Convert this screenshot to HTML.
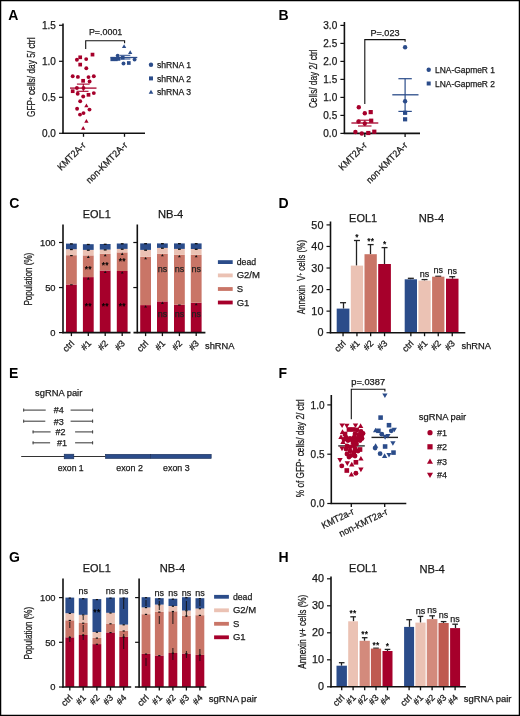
<!DOCTYPE html>
<html><head><meta charset="utf-8"><style>
html,body{margin:0;padding:0;background:#fff;}
svg{display:block;font-family:"Liberation Sans", sans-serif;will-change:transform;}
</style></head><body>
<svg width="520" height="716" viewBox="0 0 520 716">
<rect x="0" y="0" width="520" height="716" fill="#fff"/>
<text x="8.30" y="20.30" font-size="14" text-anchor="start" fill="#000" font-weight="bold" >A</text>
<line x1="63.00" y1="23.50" x2="63.00" y2="133.90" stroke="#111" stroke-width="1.6" />
<line x1="59.00" y1="133.30" x2="63.00" y2="133.30" stroke="#111" stroke-width="1.2" />
<text x="55.80" y="136.90" font-size="10" text-anchor="end" fill="#1a1a1a" stroke="#1a1a1a" stroke-width="0.25" textLength="13.90" lengthAdjust="spacingAndGlyphs" >0.0</text>
<line x1="59.00" y1="97.30" x2="63.00" y2="97.30" stroke="#111" stroke-width="1.2" />
<text x="55.80" y="100.90" font-size="10" text-anchor="end" fill="#1a1a1a" stroke="#1a1a1a" stroke-width="0.25" textLength="13.90" lengthAdjust="spacingAndGlyphs" >0.5</text>
<line x1="59.00" y1="61.30" x2="63.00" y2="61.30" stroke="#111" stroke-width="1.2" />
<text x="55.80" y="64.90" font-size="10" text-anchor="end" fill="#1a1a1a" stroke="#1a1a1a" stroke-width="0.25" textLength="13.90" lengthAdjust="spacingAndGlyphs" >1.0</text>
<line x1="59.00" y1="25.30" x2="63.00" y2="25.30" stroke="#111" stroke-width="1.2" />
<text x="55.80" y="28.90" font-size="10" text-anchor="end" fill="#1a1a1a" stroke="#1a1a1a" stroke-width="0.25" textLength="13.90" lengthAdjust="spacingAndGlyphs" >1.5</text>
<line x1="62.30" y1="133.30" x2="145.00" y2="133.30" stroke="#111" stroke-width="1.6" />
<line x1="83.50" y1="133.30" x2="83.50" y2="136.80" stroke="#111" stroke-width="1.3" />
<line x1="124.50" y1="133.30" x2="124.50" y2="136.80" stroke="#111" stroke-width="1.3" />
<text x="35.30" y="77.30" font-size="10.5" text-anchor="middle" fill="#1a1a1a" stroke="#1a1a1a" stroke-width="0.25" textLength="79.6" lengthAdjust="spacingAndGlyphs" transform="rotate(-90 35.30 77.30)" >GFP<tspan font-size="6" dy="-3.5">+</tspan><tspan dy="3.5"> cells/ day 5/ ctrl</tspan></text>
<path d="M85.7,48.9 V40.8 H124.6 V43.2" stroke="#111" stroke-width="1.1" fill="none" />
<text x="105.60" y="35.40" font-size="9" text-anchor="middle" fill="#1a1a1a" stroke="#1a1a1a" stroke-width="0.25" textLength="33.4" lengthAdjust="spacingAndGlyphs" >P=.0001</text>
<rect x="90.65" y="52.75" width="3.70" height="3.70" fill="#a6002b"/>
<rect x="78.35" y="55.45" width="3.70" height="3.70" fill="#a6002b"/>
<circle cx="76.90" cy="59.80" r="1.95" fill="#a6002b"/>
<circle cx="86.20" cy="59.10" r="1.95" fill="#a6002b"/>
<rect x="78.35" y="62.75" width="3.70" height="3.70" fill="#a6002b"/>
<circle cx="86.30" cy="68.30" r="1.95" fill="#a6002b"/>
<circle cx="72.70" cy="76.20" r="1.95" fill="#a6002b"/>
<circle cx="77.90" cy="76.90" r="1.95" fill="#a6002b"/>
<circle cx="88.50" cy="77.10" r="1.95" fill="#a6002b"/>
<circle cx="93.80" cy="76.30" r="1.95" fill="#a6002b"/>
<rect x="81.25" y="78.95" width="3.70" height="3.70" fill="#a6002b"/>
<circle cx="89.60" cy="81.50" r="1.95" fill="#a6002b"/>
<circle cx="76.90" cy="88.00" r="1.95" fill="#a6002b"/>
<circle cx="83.50" cy="88.00" r="1.95" fill="#a6002b"/>
<rect x="70.85" y="89.35" width="3.70" height="3.70" fill="#a6002b"/>
<circle cx="77.70" cy="93.80" r="1.95" fill="#a6002b"/>
<circle cx="83.20" cy="96.50" r="1.95" fill="#a6002b"/>
<rect x="86.65" y="92.95" width="3.70" height="3.70" fill="#a6002b"/>
<circle cx="93.80" cy="93.10" r="1.95" fill="#a6002b"/>
<circle cx="80.20" cy="101.30" r="1.95" fill="#a6002b"/>
<path d="M86.40,103.45 L88.55,107.16 L84.26,107.16Z" fill="#a6002b"/>
<circle cx="77.10" cy="108.80" r="1.95" fill="#a6002b"/>
<circle cx="89.50" cy="109.60" r="1.95" fill="#a6002b"/>
<circle cx="80.00" cy="114.60" r="1.95" fill="#a6002b"/>
<circle cx="83.50" cy="113.10" r="1.95" fill="#a6002b"/>
<path d="M86.40,119.06 L88.55,122.76 L84.26,122.76Z" fill="#a6002b"/>
<path d="M83.20,125.95 L85.34,129.66 L81.06,129.66Z" fill="#a6002b"/>
<line x1="70.00" y1="88.10" x2="96.50" y2="88.10" stroke="#a6002b" stroke-width="1.3" />
<line x1="76.90" y1="84.10" x2="89.60" y2="84.10" stroke="#a6002b" stroke-width="1.1" />
<line x1="76.50" y1="91.30" x2="88.50" y2="91.30" stroke="#a6002b" stroke-width="1.1" />
<line x1="83.30" y1="84.10" x2="83.30" y2="91.30" stroke="#a6002b" stroke-width="1.1" />
<path d="M124.10,44.25 L126.24,47.96 L121.95,47.96Z" fill="#2b4c8a"/>
<path d="M130.20,50.35 L132.34,54.06 L128.05,54.06Z" fill="#2b4c8a"/>
<circle cx="117.70" cy="55.60" r="1.95" fill="#2b4c8a"/>
<rect x="110.45" y="57.45" width="3.70" height="3.70" fill="#2b4c8a"/>
<rect x="113.95" y="57.45" width="3.70" height="3.70" fill="#2b4c8a"/>
<rect x="116.65" y="57.05" width="3.70" height="3.70" fill="#2b4c8a"/>
<rect x="120.85" y="55.85" width="3.70" height="3.70" fill="#2b4c8a"/>
<circle cx="123.50" cy="63.50" r="1.95" fill="#2b4c8a"/>
<rect x="126.95" y="61.15" width="3.70" height="3.70" fill="#2b4c8a"/>
<circle cx="134.60" cy="59.60" r="1.95" fill="#2b4c8a"/>
<line x1="110.40" y1="57.50" x2="137.30" y2="57.50" stroke="#2b4c8a" stroke-width="1.3" />
<line x1="120.00" y1="55.30" x2="130.40" y2="55.30" stroke="#2b4c8a" stroke-width="1.0" />
<line x1="120.00" y1="59.00" x2="130.40" y2="59.00" stroke="#2b4c8a" stroke-width="1.0" />
<circle cx="151.00" cy="64.80" r="2.20" fill="#2b4c8a"/>
<text x="157.00" y="68.00" font-size="8.5" text-anchor="start" fill="#1a1a1a" stroke="#1a1a1a" stroke-width="0.25" textLength="34" lengthAdjust="spacingAndGlyphs" >shRNA 1</text>
<rect x="149.00" y="76.41" width="3.99" height="3.99" fill="#2b4c8a"/>
<text x="157.00" y="81.50" font-size="8.5" text-anchor="start" fill="#1a1a1a" stroke="#1a1a1a" stroke-width="0.25" textLength="34" lengthAdjust="spacingAndGlyphs" >shRNA 2</text>
<path d="M151.00,89.69 L153.31,93.68 L148.69,93.68Z" fill="#2b4c8a"/>
<text x="157.00" y="95.00" font-size="8.5" text-anchor="start" fill="#1a1a1a" stroke="#1a1a1a" stroke-width="0.25" textLength="34" lengthAdjust="spacingAndGlyphs" >shRNA 3</text>
<text x="86.30" y="145.80" font-size="9.6" text-anchor="end" fill="#1a1a1a" stroke="#1a1a1a" stroke-width="0.25" textLength="35.5" lengthAdjust="spacingAndGlyphs" transform="rotate(-45 86.30 145.80)" >KMT2A-r</text>
<text x="128.00" y="145.80" font-size="9.6" text-anchor="end" fill="#1a1a1a" stroke="#1a1a1a" stroke-width="0.25" textLength="54" lengthAdjust="spacingAndGlyphs" transform="rotate(-45 128.00 145.80)" >non-KMT2A-r</text>
<text x="278.50" y="20.40" font-size="14" text-anchor="start" fill="#000" font-weight="bold" >B</text>
<line x1="344.40" y1="22.00" x2="344.40" y2="134.00" stroke="#111" stroke-width="1.6" />
<line x1="340.40" y1="133.40" x2="344.40" y2="133.40" stroke="#111" stroke-width="1.2" />
<text x="337.20" y="137.00" font-size="10" text-anchor="end" fill="#1a1a1a" stroke="#1a1a1a" stroke-width="0.25" textLength="13.90" lengthAdjust="spacingAndGlyphs" >0.0</text>
<line x1="340.40" y1="115.40" x2="344.40" y2="115.40" stroke="#111" stroke-width="1.2" />
<text x="337.20" y="119.00" font-size="10" text-anchor="end" fill="#1a1a1a" stroke="#1a1a1a" stroke-width="0.25" textLength="13.90" lengthAdjust="spacingAndGlyphs" >0.5</text>
<line x1="340.40" y1="97.40" x2="344.40" y2="97.40" stroke="#111" stroke-width="1.2" />
<text x="337.20" y="101.00" font-size="10" text-anchor="end" fill="#1a1a1a" stroke="#1a1a1a" stroke-width="0.25" textLength="13.90" lengthAdjust="spacingAndGlyphs" >1.0</text>
<line x1="340.40" y1="79.40" x2="344.40" y2="79.40" stroke="#111" stroke-width="1.2" />
<text x="337.20" y="83.00" font-size="10" text-anchor="end" fill="#1a1a1a" stroke="#1a1a1a" stroke-width="0.25" textLength="13.90" lengthAdjust="spacingAndGlyphs" >1.5</text>
<line x1="340.40" y1="61.40" x2="344.40" y2="61.40" stroke="#111" stroke-width="1.2" />
<text x="337.20" y="65.00" font-size="10" text-anchor="end" fill="#1a1a1a" stroke="#1a1a1a" stroke-width="0.25" textLength="13.90" lengthAdjust="spacingAndGlyphs" >2.0</text>
<line x1="340.40" y1="43.40" x2="344.40" y2="43.40" stroke="#111" stroke-width="1.2" />
<text x="337.20" y="47.00" font-size="10" text-anchor="end" fill="#1a1a1a" stroke="#1a1a1a" stroke-width="0.25" textLength="13.90" lengthAdjust="spacingAndGlyphs" >2.5</text>
<line x1="340.40" y1="25.40" x2="344.40" y2="25.40" stroke="#111" stroke-width="1.2" />
<text x="337.20" y="29.00" font-size="10" text-anchor="end" fill="#1a1a1a" stroke="#1a1a1a" stroke-width="0.25" textLength="13.90" lengthAdjust="spacingAndGlyphs" >3.0</text>
<line x1="343.70" y1="133.40" x2="420.00" y2="133.40" stroke="#111" stroke-width="1.6" />
<line x1="364.80" y1="133.40" x2="364.80" y2="136.90" stroke="#111" stroke-width="1.3" />
<line x1="405.10" y1="133.40" x2="405.10" y2="136.90" stroke="#111" stroke-width="1.3" />
<text x="317.30" y="78.70" font-size="11" text-anchor="middle" fill="#1a1a1a" stroke="#1a1a1a" stroke-width="0.25" textLength="58.8" lengthAdjust="spacingAndGlyphs" transform="rotate(-90 317.30 78.70)" >Cells/ day 2/ ctrl</text>
<path d="M364.8,103.9 V39.6 H405.1 V41.8" stroke="#111" stroke-width="1.1" fill="none" />
<text x="385.00" y="36.30" font-size="9" text-anchor="middle" fill="#1a1a1a" stroke="#1a1a1a" stroke-width="0.25" textLength="29" lengthAdjust="spacingAndGlyphs" >P=.023</text>
<circle cx="358.80" cy="107.20" r="2.20" fill="#a6002b"/>
<circle cx="364.80" cy="113.30" r="2.20" fill="#a6002b"/>
<rect x="368.61" y="110.01" width="4.18" height="4.18" fill="#a6002b"/>
<circle cx="358.50" cy="121.50" r="2.20" fill="#a6002b"/>
<circle cx="364.80" cy="123.50" r="2.20" fill="#a6002b"/>
<rect x="369.11" y="118.61" width="4.18" height="4.18" fill="#a6002b"/>
<circle cx="355.40" cy="132.00" r="2.20" fill="#a6002b"/>
<circle cx="361.80" cy="133.50" r="2.20" fill="#a6002b"/>
<rect x="366.21" y="130.91" width="4.18" height="4.18" fill="#a6002b"/>
<rect x="372.21" y="129.61" width="4.18" height="4.18" fill="#a6002b"/>
<line x1="351.40" y1="123.00" x2="378.30" y2="123.00" stroke="#a6002b" stroke-width="1.3" />
<line x1="358.00" y1="120.20" x2="371.50" y2="120.20" stroke="#a6002b" stroke-width="1.1" />
<line x1="358.00" y1="126.00" x2="371.50" y2="126.00" stroke="#a6002b" stroke-width="1.1" />
<line x1="364.80" y1="120.20" x2="364.80" y2="126.00" stroke="#a6002b" stroke-width="1.1" />
<circle cx="405.10" cy="47.30" r="2.20" fill="#2b4c8a"/>
<circle cx="405.10" cy="101.20" r="2.20" fill="#2b4c8a"/>
<rect x="403.01" y="110.71" width="4.18" height="4.18" fill="#2b4c8a"/>
<rect x="403.01" y="117.21" width="4.18" height="4.18" fill="#2b4c8a"/>
<line x1="392.30" y1="94.80" x2="418.50" y2="94.80" stroke="#2b4c8a" stroke-width="1.3" />
<line x1="398.40" y1="78.70" x2="411.80" y2="78.70" stroke="#2b4c8a" stroke-width="1.2" />
<line x1="398.40" y1="111.40" x2="411.80" y2="111.40" stroke="#2b4c8a" stroke-width="1.2" />
<line x1="405.10" y1="78.70" x2="405.10" y2="111.40" stroke="#2b4c8a" stroke-width="1.2" />
<circle cx="428.70" cy="69.80" r="2.20" fill="#2b4c8a"/>
<text x="435.00" y="72.90" font-size="8.5" text-anchor="start" fill="#1a1a1a" stroke="#1a1a1a" stroke-width="0.25" textLength="60" lengthAdjust="spacingAndGlyphs" >LNA-GapmeR 1</text>
<rect x="426.70" y="81.50" width="3.99" height="3.99" fill="#2b4c8a"/>
<text x="435.00" y="86.60" font-size="8.5" text-anchor="start" fill="#1a1a1a" stroke="#1a1a1a" stroke-width="0.25" textLength="60" lengthAdjust="spacingAndGlyphs" >LNA-GapmeR 2</text>
<text x="367.60" y="145.80" font-size="9.6" text-anchor="end" fill="#1a1a1a" stroke="#1a1a1a" stroke-width="0.25" textLength="35.5" lengthAdjust="spacingAndGlyphs" transform="rotate(-45 367.60 145.80)" >KMT2A-r</text>
<text x="408.20" y="145.80" font-size="9.6" text-anchor="end" fill="#1a1a1a" stroke="#1a1a1a" stroke-width="0.25" textLength="54" lengthAdjust="spacingAndGlyphs" transform="rotate(-45 408.20 145.80)" >non-KMT2A-r</text>
<text x="9.30" y="208.20" font-size="14" text-anchor="start" fill="#000" font-weight="bold" >C</text>
<text x="96.80" y="218.00" font-size="11.5" text-anchor="middle" fill="#1a1a1a" stroke="#1a1a1a" stroke-width="0.25" textLength="28" lengthAdjust="spacingAndGlyphs" >EOL1</text>
<text x="170.60" y="218.00" font-size="11.5" text-anchor="middle" fill="#1a1a1a" stroke="#1a1a1a" stroke-width="0.25" textLength="25.4" lengthAdjust="spacingAndGlyphs" >NB-4</text>
<line x1="63.00" y1="224.50" x2="63.00" y2="333.20" stroke="#111" stroke-width="1.6" />
<line x1="59.00" y1="332.60" x2="63.00" y2="332.60" stroke="#111" stroke-width="1.2" />
<text x="55.60" y="335.98" font-size="9.4" text-anchor="end" fill="#1a1a1a" stroke="#1a1a1a" stroke-width="0.25" textLength="5.23" lengthAdjust="spacingAndGlyphs" >0</text>
<line x1="59.00" y1="287.55" x2="63.00" y2="287.55" stroke="#111" stroke-width="1.2" />
<text x="55.60" y="290.93" font-size="9.4" text-anchor="end" fill="#1a1a1a" stroke="#1a1a1a" stroke-width="0.25" textLength="10.45" lengthAdjust="spacingAndGlyphs" >50</text>
<line x1="59.00" y1="242.50" x2="63.00" y2="242.50" stroke="#111" stroke-width="1.2" />
<text x="55.60" y="245.88" font-size="9.4" text-anchor="end" fill="#1a1a1a" stroke="#1a1a1a" stroke-width="0.25" textLength="15.68" lengthAdjust="spacingAndGlyphs" >100</text>
<line x1="137.30" y1="224.50" x2="137.30" y2="333.20" stroke="#111" stroke-width="1.6" />
<line x1="133.30" y1="287.55" x2="137.30" y2="287.55" stroke="#111" stroke-width="1.2" />
<line x1="133.30" y1="242.50" x2="137.30" y2="242.50" stroke="#111" stroke-width="1.2" />
<text x="32.20" y="279.10" font-size="10.5" text-anchor="middle" fill="#1a1a1a" stroke="#1a1a1a" stroke-width="0.25" textLength="52.8" lengthAdjust="spacingAndGlyphs" transform="rotate(-90 32.20 279.10)" >Population (%)</text>
<rect x="66.00" y="284.50" width="10.80" height="48.10" fill="#a6002b" />
<rect x="66.00" y="255.20" width="10.80" height="29.30" fill="#c97567" />
<rect x="66.00" y="249.20" width="10.80" height="6.00" fill="#ebc2b4" />
<rect x="66.00" y="243.60" width="10.80" height="5.60" fill="#2b4c8a" />
<rect x="82.90" y="277.10" width="10.80" height="55.50" fill="#a6002b" />
<rect x="82.90" y="255.40" width="10.80" height="21.70" fill="#c97567" />
<rect x="82.90" y="249.90" width="10.80" height="5.50" fill="#ebc2b4" />
<rect x="82.90" y="244.20" width="10.80" height="5.70" fill="#2b4c8a" />
<rect x="99.80" y="270.50" width="10.80" height="62.10" fill="#a6002b" />
<rect x="99.80" y="253.80" width="10.80" height="16.70" fill="#c97567" />
<rect x="99.80" y="249.60" width="10.80" height="4.20" fill="#ebc2b4" />
<rect x="99.80" y="244.00" width="10.80" height="5.60" fill="#2b4c8a" />
<rect x="116.80" y="271.00" width="10.80" height="61.60" fill="#a6002b" />
<rect x="116.80" y="252.40" width="10.80" height="18.60" fill="#c97567" />
<rect x="116.80" y="248.90" width="10.80" height="3.50" fill="#ebc2b4" />
<rect x="116.80" y="243.50" width="10.80" height="5.40" fill="#2b4c8a" />
<rect x="140.20" y="305.10" width="10.80" height="27.50" fill="#a6002b" />
<rect x="140.20" y="256.80" width="10.80" height="48.30" fill="#c97567" />
<rect x="140.20" y="249.90" width="10.80" height="6.90" fill="#ebc2b4" />
<rect x="140.20" y="243.40" width="10.80" height="6.50" fill="#2b4c8a" />
<rect x="157.00" y="301.40" width="10.80" height="31.20" fill="#a6002b" />
<rect x="157.00" y="253.80" width="10.80" height="47.60" fill="#c97567" />
<rect x="157.00" y="247.90" width="10.80" height="5.90" fill="#ebc2b4" />
<rect x="157.00" y="243.40" width="10.80" height="4.50" fill="#2b4c8a" />
<rect x="174.00" y="304.70" width="10.80" height="27.90" fill="#a6002b" />
<rect x="174.00" y="254.80" width="10.80" height="49.90" fill="#c97567" />
<rect x="174.00" y="248.90" width="10.80" height="5.90" fill="#ebc2b4" />
<rect x="174.00" y="243.40" width="10.80" height="5.50" fill="#2b4c8a" />
<rect x="190.80" y="302.70" width="10.80" height="29.90" fill="#a6002b" />
<rect x="190.80" y="254.80" width="10.80" height="47.90" fill="#c97567" />
<rect x="190.80" y="249.00" width="10.80" height="5.80" fill="#ebc2b4" />
<rect x="190.80" y="243.40" width="10.80" height="5.60" fill="#2b4c8a" />
<line x1="62.30" y1="332.60" x2="130.50" y2="332.60" stroke="#111" stroke-width="1.6" />
<line x1="71.40" y1="332.60" x2="71.40" y2="336.10" stroke="#111" stroke-width="1.3" />
<line x1="88.30" y1="332.60" x2="88.30" y2="336.10" stroke="#111" stroke-width="1.3" />
<line x1="105.20" y1="332.60" x2="105.20" y2="336.10" stroke="#111" stroke-width="1.3" />
<line x1="122.20" y1="332.60" x2="122.20" y2="336.10" stroke="#111" stroke-width="1.3" />
<line x1="133.50" y1="332.60" x2="205.40" y2="332.60" stroke="#111" stroke-width="1.6" />
<line x1="145.60" y1="332.60" x2="145.60" y2="336.10" stroke="#111" stroke-width="1.3" />
<line x1="162.40" y1="332.60" x2="162.40" y2="336.10" stroke="#111" stroke-width="1.3" />
<line x1="179.40" y1="332.60" x2="179.40" y2="336.10" stroke="#111" stroke-width="1.3" />
<line x1="196.20" y1="332.60" x2="196.20" y2="336.10" stroke="#111" stroke-width="1.3" />
<rect x="70.00" y="243.25" width="2.80" height="1.30" fill="#111" />
<rect x="70.00" y="248.85" width="2.80" height="1.30" fill="#111" />
<rect x="70.10" y="255.00" width="2.60" height="1.20" fill="#111" />
<rect x="70.10" y="284.30" width="2.60" height="1.00" fill="#111" />
<rect x="86.90" y="243.85" width="2.80" height="1.30" fill="#111" />
<rect x="86.90" y="249.55" width="2.80" height="1.30" fill="#111" />
<path d="M88.30,255.60 L89.70,257.90 L86.90,257.90Z" fill="#111"/>
<path d="M88.30,277.30 L89.70,279.60 L86.90,279.60Z" fill="#111"/>
<rect x="103.80" y="243.65" width="2.80" height="1.30" fill="#111" />
<rect x="103.80" y="249.25" width="2.80" height="1.30" fill="#111" />
<path d="M105.20,254.00 L106.60,256.30 L103.80,256.30Z" fill="#111"/>
<path d="M105.20,270.70 L106.60,273.00 L103.80,273.00Z" fill="#111"/>
<rect x="120.80" y="243.15" width="2.80" height="1.30" fill="#111" />
<rect x="120.80" y="248.55" width="2.80" height="1.30" fill="#111" />
<path d="M122.20,252.60 L123.60,254.90 L120.80,254.90Z" fill="#111"/>
<path d="M122.20,271.20 L123.60,273.50 L120.80,273.50Z" fill="#111"/>
<rect x="144.20" y="243.05" width="2.80" height="1.30" fill="#111" />
<rect x="144.20" y="249.55" width="2.80" height="1.30" fill="#111" />
<path d="M145.60,257.00 L147.00,259.30 L144.20,259.30Z" fill="#111"/>
<path d="M145.60,305.30 L147.00,307.60 L144.20,307.60Z" fill="#111"/>
<rect x="161.00" y="243.05" width="2.80" height="1.30" fill="#111" />
<rect x="161.00" y="247.55" width="2.80" height="1.30" fill="#111" />
<path d="M162.40,254.00 L163.80,256.30 L161.00,256.30Z" fill="#111"/>
<path d="M162.40,301.60 L163.80,303.90 L161.00,303.90Z" fill="#111"/>
<rect x="178.00" y="243.05" width="2.80" height="1.30" fill="#111" />
<rect x="178.00" y="248.55" width="2.80" height="1.30" fill="#111" />
<path d="M179.40,255.00 L180.80,257.30 L178.00,257.30Z" fill="#111"/>
<rect x="178.10" y="304.50" width="2.60" height="1.00" fill="#111" />
<rect x="194.80" y="243.05" width="2.80" height="1.30" fill="#111" />
<rect x="194.80" y="248.65" width="2.80" height="1.30" fill="#111" />
<path d="M196.20,255.00 L197.60,257.30 L194.80,257.30Z" fill="#111"/>
<path d="M196.20,302.90 L197.60,305.20 L194.80,305.20Z" fill="#111"/>
<text x="88.30" y="308.77" font-size="8.4" text-anchor="middle" fill="#000" stroke="#000" stroke-width="0.25" letter-spacing="0.3">**</text>
<text x="105.20" y="308.77" font-size="8.4" text-anchor="middle" fill="#000" stroke="#000" stroke-width="0.25" letter-spacing="0.3">**</text>
<text x="122.20" y="308.77" font-size="8.4" text-anchor="middle" fill="#000" stroke="#000" stroke-width="0.25" letter-spacing="0.3">**</text>
<text x="88.30" y="272.27" font-size="8.4" text-anchor="middle" fill="#000" stroke="#000" stroke-width="0.25" letter-spacing="0.3">**</text>
<text x="105.20" y="268.17" font-size="8.4" text-anchor="middle" fill="#000" stroke="#000" stroke-width="0.25" letter-spacing="0.3">**</text>
<text x="122.20" y="264.37" font-size="8.4" text-anchor="middle" fill="#000" stroke="#000" stroke-width="0.25" letter-spacing="0.3">**</text>
<text x="162.40" y="272.40" font-size="9" text-anchor="middle" fill="#222" stroke="#222" stroke-width="0.25" >ns</text>
<text x="162.40" y="317.40" font-size="9" text-anchor="middle" fill="#222" stroke="#222" stroke-width="0.25" >ns</text>
<text x="179.40" y="272.40" font-size="9" text-anchor="middle" fill="#222" stroke="#222" stroke-width="0.25" >ns</text>
<text x="179.40" y="317.40" font-size="9" text-anchor="middle" fill="#222" stroke="#222" stroke-width="0.25" >ns</text>
<text x="196.20" y="272.40" font-size="9" text-anchor="middle" fill="#222" stroke="#222" stroke-width="0.25" >ns</text>
<text x="196.20" y="317.40" font-size="9" text-anchor="middle" fill="#222" stroke="#222" stroke-width="0.25" >ns</text>
<rect x="217.90" y="260.20" width="14.80" height="3.80" fill="#2b4c8a" />
<text x="236.70" y="265.10" font-size="9.5" text-anchor="start" fill="#1a1a1a" stroke="#1a1a1a" stroke-width="0.25" textLength="19.4" lengthAdjust="spacingAndGlyphs" >dead</text>
<rect x="217.90" y="273.50" width="14.80" height="3.80" fill="#ebc2b4" />
<text x="236.70" y="278.40" font-size="9.5" text-anchor="start" fill="#1a1a1a" stroke="#1a1a1a" stroke-width="0.25" >G2/M</text>
<rect x="217.90" y="287.10" width="14.80" height="3.80" fill="#c97567" />
<text x="236.70" y="292.00" font-size="9.5" text-anchor="start" fill="#1a1a1a" stroke="#1a1a1a" stroke-width="0.25" >S</text>
<rect x="217.90" y="300.60" width="14.80" height="3.80" fill="#a6002b" />
<text x="236.70" y="305.50" font-size="9.5" text-anchor="start" fill="#1a1a1a" stroke="#1a1a1a" stroke-width="0.25" >G1</text>
<text x="74.80" y="344.00" font-size="9" text-anchor="end" fill="#1a1a1a" stroke="#1a1a1a" stroke-width="0.25" transform="rotate(-45 74.80 344.00)" >ctrl</text>
<text x="91.70" y="344.00" font-size="9" text-anchor="end" fill="#1a1a1a" stroke="#1a1a1a" stroke-width="0.25" transform="rotate(-45 91.70 344.00)" >#1</text>
<text x="108.60" y="344.00" font-size="9" text-anchor="end" fill="#1a1a1a" stroke="#1a1a1a" stroke-width="0.25" transform="rotate(-45 108.60 344.00)" >#2</text>
<text x="125.60" y="344.00" font-size="9" text-anchor="end" fill="#1a1a1a" stroke="#1a1a1a" stroke-width="0.25" transform="rotate(-45 125.60 344.00)" >#3</text>
<text x="149.00" y="344.00" font-size="9" text-anchor="end" fill="#1a1a1a" stroke="#1a1a1a" stroke-width="0.25" transform="rotate(-45 149.00 344.00)" >ctrl</text>
<text x="165.80" y="344.00" font-size="9" text-anchor="end" fill="#1a1a1a" stroke="#1a1a1a" stroke-width="0.25" transform="rotate(-45 165.80 344.00)" >#1</text>
<text x="182.80" y="344.00" font-size="9" text-anchor="end" fill="#1a1a1a" stroke="#1a1a1a" stroke-width="0.25" transform="rotate(-45 182.80 344.00)" >#2</text>
<text x="199.60" y="344.00" font-size="9" text-anchor="end" fill="#1a1a1a" stroke="#1a1a1a" stroke-width="0.25" transform="rotate(-45 199.60 344.00)" >#3</text>
<text x="205.00" y="348.90" font-size="9.2" text-anchor="start" fill="#1a1a1a" stroke="#1a1a1a" stroke-width="0.25" textLength="29.5" lengthAdjust="spacingAndGlyphs" >shRNA</text>
<text x="278.50" y="207.90" font-size="14" text-anchor="start" fill="#000" font-weight="bold" >D</text>
<text x="363.10" y="221.70" font-size="11.5" text-anchor="middle" fill="#1a1a1a" stroke="#1a1a1a" stroke-width="0.25" textLength="28" lengthAdjust="spacingAndGlyphs" >EOL1</text>
<text x="431.50" y="221.90" font-size="11.5" text-anchor="middle" fill="#1a1a1a" stroke="#1a1a1a" stroke-width="0.25" textLength="25.4" lengthAdjust="spacingAndGlyphs" >NB-4</text>
<line x1="330.50" y1="221.50" x2="330.50" y2="333.30" stroke="#111" stroke-width="1.6" />
<line x1="326.50" y1="332.70" x2="330.50" y2="332.70" stroke="#111" stroke-width="1.2" />
<text x="323.40" y="336.30" font-size="10" text-anchor="end" fill="#1a1a1a" stroke="#1a1a1a" stroke-width="0.25" textLength="6.00" lengthAdjust="spacingAndGlyphs" >0</text>
<line x1="326.50" y1="311.14" x2="330.50" y2="311.14" stroke="#111" stroke-width="1.2" />
<text x="323.40" y="314.74" font-size="10" text-anchor="end" fill="#1a1a1a" stroke="#1a1a1a" stroke-width="0.25" textLength="12.01" lengthAdjust="spacingAndGlyphs" >10</text>
<line x1="326.50" y1="289.58" x2="330.50" y2="289.58" stroke="#111" stroke-width="1.2" />
<text x="323.40" y="293.18" font-size="10" text-anchor="end" fill="#1a1a1a" stroke="#1a1a1a" stroke-width="0.25" textLength="12.01" lengthAdjust="spacingAndGlyphs" >20</text>
<line x1="326.50" y1="268.02" x2="330.50" y2="268.02" stroke="#111" stroke-width="1.2" />
<text x="323.40" y="271.62" font-size="10" text-anchor="end" fill="#1a1a1a" stroke="#1a1a1a" stroke-width="0.25" textLength="12.01" lengthAdjust="spacingAndGlyphs" >30</text>
<line x1="326.50" y1="246.46" x2="330.50" y2="246.46" stroke="#111" stroke-width="1.2" />
<text x="323.40" y="250.06" font-size="10" text-anchor="end" fill="#1a1a1a" stroke="#1a1a1a" stroke-width="0.25" textLength="12.01" lengthAdjust="spacingAndGlyphs" >40</text>
<line x1="326.50" y1="224.90" x2="330.50" y2="224.90" stroke="#111" stroke-width="1.2" />
<text x="323.40" y="228.50" font-size="10" text-anchor="end" fill="#1a1a1a" stroke="#1a1a1a" stroke-width="0.25" textLength="12.01" lengthAdjust="spacingAndGlyphs" >50</text>
<text x="305.40" y="277.10" font-size="10.5" text-anchor="middle" fill="#1a1a1a" stroke="#1a1a1a" stroke-width="0.25" textLength="74.3" lengthAdjust="spacingAndGlyphs" transform="rotate(-90 305.40 277.10)" >Annexin&#160; V<tspan font-size="6" dy="-3.5">+</tspan><tspan dy="3.5"> cells (%)</tspan></text>
<line x1="343.50" y1="302.70" x2="343.50" y2="308.60" stroke="#222" stroke-width="1.3" />
<line x1="340.05" y1="302.70" x2="346.05" y2="302.70" stroke="#222" stroke-width="1.3" />
<rect x="336.70" y="308.60" width="12.70" height="24.10" fill="#2b4c8a" />
<line x1="356.50" y1="240.50" x2="356.50" y2="265.60" stroke="#222" stroke-width="1.3" />
<line x1="353.95" y1="240.50" x2="359.95" y2="240.50" stroke="#222" stroke-width="1.3" />
<rect x="350.80" y="265.60" width="12.30" height="67.10" fill="#ebc2b4" />
<line x1="370.50" y1="244.60" x2="370.50" y2="254.20" stroke="#222" stroke-width="1.3" />
<line x1="367.65" y1="244.60" x2="373.65" y2="244.60" stroke="#222" stroke-width="1.3" />
<rect x="364.50" y="254.20" width="12.30" height="78.50" fill="#c97567" />
<line x1="384.50" y1="247.60" x2="384.50" y2="264.00" stroke="#222" stroke-width="1.3" />
<line x1="381.55" y1="247.60" x2="387.55" y2="247.60" stroke="#222" stroke-width="1.3" />
<rect x="378.20" y="264.00" width="12.70" height="68.70" fill="#a6002b" />
<line x1="410.50" y1="278.30" x2="410.50" y2="279.30" stroke="#222" stroke-width="1.3" />
<line x1="407.85" y1="278.30" x2="413.85" y2="278.30" stroke="#222" stroke-width="1.3" />
<rect x="404.70" y="279.30" width="12.30" height="53.40" fill="#2b4c8a" />
<line x1="424.50" y1="279.60" x2="424.50" y2="280.60" stroke="#222" stroke-width="1.3" />
<line x1="421.55" y1="279.60" x2="427.55" y2="279.60" stroke="#222" stroke-width="1.3" />
<rect x="418.40" y="280.60" width="12.30" height="52.10" fill="#ebc2b4" />
<line x1="435.25" y1="276.30" x2="441.25" y2="276.30" stroke="#222" stroke-width="1.3" />
<rect x="432.10" y="276.70" width="12.30" height="56.00" fill="#c97567" />
<line x1="452.50" y1="276.70" x2="452.50" y2="278.70" stroke="#222" stroke-width="1.3" />
<line x1="449.25" y1="276.70" x2="455.25" y2="276.70" stroke="#222" stroke-width="1.3" />
<rect x="446.00" y="278.70" width="12.50" height="54.00" fill="#a6002b" />
<line x1="329.80" y1="332.70" x2="465.30" y2="332.70" stroke="#111" stroke-width="1.6" />
<line x1="343.05" y1="332.70" x2="343.05" y2="336.20" stroke="#111" stroke-width="1.3" />
<line x1="356.95" y1="332.70" x2="356.95" y2="336.20" stroke="#111" stroke-width="1.3" />
<line x1="370.65" y1="332.70" x2="370.65" y2="336.20" stroke="#111" stroke-width="1.3" />
<line x1="384.55" y1="332.70" x2="384.55" y2="336.20" stroke="#111" stroke-width="1.3" />
<line x1="410.85" y1="332.70" x2="410.85" y2="336.20" stroke="#111" stroke-width="1.3" />
<line x1="424.55" y1="332.70" x2="424.55" y2="336.20" stroke="#111" stroke-width="1.3" />
<line x1="438.25" y1="332.70" x2="438.25" y2="336.20" stroke="#111" stroke-width="1.3" />
<line x1="452.25" y1="332.70" x2="452.25" y2="336.20" stroke="#111" stroke-width="1.3" />
<text x="357.00" y="239.87" font-size="8.4" text-anchor="middle" fill="#000" stroke="#000" stroke-width="0.25" >*</text>
<text x="370.70" y="244.07" font-size="8.4" text-anchor="middle" fill="#000" stroke="#000" stroke-width="0.25" letter-spacing="0.3">**</text>
<text x="384.60" y="247.27" font-size="8.4" text-anchor="middle" fill="#000" stroke="#000" stroke-width="0.25" >*</text>
<text x="424.60" y="276.80" font-size="9" text-anchor="middle" fill="#222" stroke="#222" stroke-width="0.25" >ns</text>
<text x="438.30" y="273.20" font-size="9" text-anchor="middle" fill="#222" stroke="#222" stroke-width="0.25" >ns</text>
<text x="452.20" y="274.20" font-size="9" text-anchor="middle" fill="#222" stroke="#222" stroke-width="0.25" >ns</text>
<text x="346.45" y="344.00" font-size="9" text-anchor="end" fill="#1a1a1a" stroke="#1a1a1a" stroke-width="0.25" transform="rotate(-45 346.45 344.00)" >ctrl</text>
<text x="360.35" y="344.00" font-size="9" text-anchor="end" fill="#1a1a1a" stroke="#1a1a1a" stroke-width="0.25" transform="rotate(-45 360.35 344.00)" >#1</text>
<text x="374.05" y="344.00" font-size="9" text-anchor="end" fill="#1a1a1a" stroke="#1a1a1a" stroke-width="0.25" transform="rotate(-45 374.05 344.00)" >#2</text>
<text x="387.95" y="344.00" font-size="9" text-anchor="end" fill="#1a1a1a" stroke="#1a1a1a" stroke-width="0.25" transform="rotate(-45 387.95 344.00)" >#3</text>
<text x="414.25" y="344.00" font-size="9" text-anchor="end" fill="#1a1a1a" stroke="#1a1a1a" stroke-width="0.25" transform="rotate(-45 414.25 344.00)" >ctrl</text>
<text x="427.95" y="344.00" font-size="9" text-anchor="end" fill="#1a1a1a" stroke="#1a1a1a" stroke-width="0.25" transform="rotate(-45 427.95 344.00)" >#1</text>
<text x="441.65" y="344.00" font-size="9" text-anchor="end" fill="#1a1a1a" stroke="#1a1a1a" stroke-width="0.25" transform="rotate(-45 441.65 344.00)" >#2</text>
<text x="455.65" y="344.00" font-size="9" text-anchor="end" fill="#1a1a1a" stroke="#1a1a1a" stroke-width="0.25" transform="rotate(-45 455.65 344.00)" >#3</text>
<text x="461.50" y="348.80" font-size="9.2" text-anchor="start" fill="#1a1a1a" stroke="#1a1a1a" stroke-width="0.25" textLength="29.5" lengthAdjust="spacingAndGlyphs" >shRNA</text>
<text x="9.00" y="377.60" font-size="14" text-anchor="start" fill="#000" font-weight="bold" >E</text>
<text x="35.00" y="395.80" font-size="9.2" text-anchor="start" fill="#1a1a1a" stroke="#1a1a1a" stroke-width="0.25" textLength="47.3" lengthAdjust="spacingAndGlyphs" >sgRNA pair</text>
<line x1="23.20" y1="410.10" x2="45.70" y2="410.10" stroke="#444" stroke-width="1.1" />
<line x1="70.60" y1="410.10" x2="93.10" y2="410.10" stroke="#444" stroke-width="1.1" />
<line x1="23.70" y1="408.50" x2="23.70" y2="411.70" stroke="#444" stroke-width="1.0" />
<line x1="92.60" y1="408.50" x2="92.60" y2="411.70" stroke="#444" stroke-width="1.0" />
<text x="58.70" y="413.40" font-size="9" text-anchor="middle" fill="#222" stroke="#222" stroke-width="0.25" >#4</text>
<line x1="23.20" y1="421.20" x2="45.30" y2="421.20" stroke="#444" stroke-width="1.1" />
<line x1="70.60" y1="421.20" x2="93.10" y2="421.20" stroke="#444" stroke-width="1.1" />
<line x1="23.70" y1="419.60" x2="23.70" y2="422.80" stroke="#444" stroke-width="1.0" />
<line x1="92.60" y1="419.60" x2="92.60" y2="422.80" stroke="#444" stroke-width="1.0" />
<text x="58.70" y="424.50" font-size="9" text-anchor="middle" fill="#222" stroke="#222" stroke-width="0.25" >#3</text>
<line x1="32.60" y1="431.90" x2="50.60" y2="431.90" stroke="#444" stroke-width="1.1" />
<line x1="75.10" y1="431.90" x2="93.10" y2="431.90" stroke="#444" stroke-width="1.1" />
<line x1="33.10" y1="430.30" x2="33.10" y2="433.50" stroke="#444" stroke-width="1.0" />
<line x1="92.60" y1="430.30" x2="92.60" y2="433.50" stroke="#444" stroke-width="1.0" />
<text x="60.50" y="435.20" font-size="9" text-anchor="middle" fill="#222" stroke="#222" stroke-width="0.25" >#2</text>
<line x1="32.60" y1="442.80" x2="50.10" y2="442.80" stroke="#444" stroke-width="1.1" />
<line x1="75.10" y1="442.80" x2="93.10" y2="442.80" stroke="#444" stroke-width="1.1" />
<line x1="33.10" y1="441.20" x2="33.10" y2="444.40" stroke="#444" stroke-width="1.0" />
<line x1="92.60" y1="441.20" x2="92.60" y2="444.40" stroke="#444" stroke-width="1.0" />
<text x="62.00" y="446.10" font-size="9" text-anchor="middle" fill="#222" stroke="#222" stroke-width="0.25" >#1</text>
<line x1="21.20" y1="456.50" x2="105.50" y2="456.50" stroke="#333" stroke-width="1.0" />
<rect x="64.2" y="454.2" width="9.6" height="4.6" fill="#2b4c8a" stroke="#1b2f57" stroke-width="0.6"/>
<rect x="105.4" y="454.3" width="45.0" height="4.2" fill="#2b4c8a" stroke="#1b2f57" stroke-width="0.6"/>
<rect x="150.4" y="454.3" width="60.8" height="4.2" fill="#2b4c8a" stroke="#1b2f57" stroke-width="0.6"/>
<text x="70.70" y="471.00" font-size="9.2" text-anchor="middle" fill="#1a1a1a" stroke="#1a1a1a" stroke-width="0.25" textLength="26" lengthAdjust="spacingAndGlyphs" >exon 1</text>
<text x="129.60" y="471.20" font-size="9.2" text-anchor="middle" fill="#1a1a1a" stroke="#1a1a1a" stroke-width="0.25" textLength="26.8" lengthAdjust="spacingAndGlyphs" >exon 2</text>
<text x="176.40" y="471.20" font-size="9.2" text-anchor="middle" fill="#1a1a1a" stroke="#1a1a1a" stroke-width="0.25" textLength="26.6" lengthAdjust="spacingAndGlyphs" >exon 3</text>
<text x="278.50" y="377.70" font-size="14" text-anchor="start" fill="#000" font-weight="bold" >F</text>
<line x1="331.30" y1="395.00" x2="331.30" y2="504.10" stroke="#111" stroke-width="1.6" />
<line x1="327.30" y1="503.50" x2="331.30" y2="503.50" stroke="#111" stroke-width="1.2" />
<text x="324.50" y="507.10" font-size="10" text-anchor="end" fill="#1a1a1a" stroke="#1a1a1a" stroke-width="0.25" textLength="13.90" lengthAdjust="spacingAndGlyphs" >0.0</text>
<line x1="327.30" y1="454.20" x2="331.30" y2="454.20" stroke="#111" stroke-width="1.2" />
<text x="324.50" y="457.80" font-size="10" text-anchor="end" fill="#1a1a1a" stroke="#1a1a1a" stroke-width="0.25" textLength="13.90" lengthAdjust="spacingAndGlyphs" >0.5</text>
<line x1="327.30" y1="404.90" x2="331.30" y2="404.90" stroke="#111" stroke-width="1.2" />
<text x="324.50" y="408.50" font-size="10" text-anchor="end" fill="#1a1a1a" stroke="#1a1a1a" stroke-width="0.25" textLength="13.90" lengthAdjust="spacingAndGlyphs" >1.0</text>
<line x1="330.60" y1="503.50" x2="406.30" y2="503.50" stroke="#111" stroke-width="1.6" />
<line x1="351.30" y1="503.50" x2="351.30" y2="507.00" stroke="#111" stroke-width="1.3" />
<line x1="384.70" y1="503.50" x2="384.70" y2="507.00" stroke="#111" stroke-width="1.3" />
<text x="304.40" y="448.30" font-size="10.5" text-anchor="middle" fill="#1a1a1a" stroke="#1a1a1a" stroke-width="0.25" textLength="97.9" lengthAdjust="spacingAndGlyphs" transform="rotate(-90 304.40 448.30)" >% of GFP<tspan font-size="6" dy="-3.5">+</tspan><tspan dy="3.5"> cells/ day 2/ ctrl</tspan></text>
<path d="M351.3,419.3 V389.3 H384.9 V391.4" stroke="#111" stroke-width="1.1" fill="none" />
<text x="368.20" y="385.30" font-size="9" text-anchor="middle" fill="#1a1a1a" stroke="#1a1a1a" stroke-width="0.25" textLength="33.8" lengthAdjust="spacingAndGlyphs" >p=.0387</text>
<line x1="338.20" y1="445.90" x2="364.80" y2="445.90" stroke="#333" stroke-width="1.4" />
<path d="M342.10,428.09 L344.80,423.44 L339.41,423.44Z" fill="#a6002b"/>
<path d="M346.80,428.30 L349.50,423.64 L344.11,423.64Z" fill="#a6002b"/>
<path d="M355.50,428.09 L358.19,423.44 L352.81,423.44Z" fill="#a6002b"/>
<path d="M360.60,423.31 L363.30,427.96 L357.91,427.96Z" fill="#a6002b"/>
<path d="M340.00,462.69 L342.69,458.04 L337.31,458.04Z" fill="#a6002b"/>
<circle cx="341.80" cy="465.90" r="2.45" fill="#a6002b"/>
<path d="M347.30,465.89 L350.00,461.24 L344.61,461.24Z" fill="#a6002b"/>
<path d="M351.80,461.81 L354.50,466.46 L349.11,466.46Z" fill="#a6002b"/>
<rect x="353.57" y="459.97" width="4.66" height="4.66" fill="#a6002b"/>
<path d="M360.90,455.91 L363.59,460.56 L358.20,460.56Z" fill="#a6002b"/>
<rect x="344.47" y="468.17" width="4.66" height="4.66" fill="#a6002b"/>
<path d="M351.40,471.81 L354.09,476.46 L348.70,476.46Z" fill="#a6002b"/>
<circle cx="355.90" cy="473.20" r="2.45" fill="#a6002b"/>
<path d="M360.90,472.19 L363.59,467.54 L358.20,467.54Z" fill="#a6002b"/>
<rect x="346.67" y="427.17" width="4.66" height="4.66" fill="#a6002b"/>
<rect x="350.67" y="427.17" width="4.66" height="4.66" fill="#a6002b"/>
<circle cx="357.00" cy="430.00" r="2.45" fill="#a6002b"/>
<path d="M342.50,429.31 L345.19,433.96 L339.81,433.96Z" fill="#a6002b"/>
<circle cx="361.00" cy="431.50" r="2.45" fill="#a6002b"/>
<circle cx="363.00" cy="433.50" r="2.45" fill="#a6002b"/>
<rect x="342.67" y="431.67" width="4.66" height="4.66" fill="#a6002b"/>
<circle cx="355.00" cy="434.00" r="2.45" fill="#a6002b"/>
<circle cx="359.00" cy="434.50" r="2.45" fill="#a6002b"/>
<rect x="359.17" y="433.67" width="4.66" height="4.66" fill="#a6002b"/>
<path d="M341.00,434.31 L343.69,438.96 L338.31,438.96Z" fill="#a6002b"/>
<circle cx="346.00" cy="437.50" r="2.45" fill="#a6002b"/>
<circle cx="350.00" cy="438.50" r="2.45" fill="#a6002b"/>
<circle cx="354.00" cy="437.50" r="2.45" fill="#a6002b"/>
<circle cx="358.00" cy="438.00" r="2.45" fill="#a6002b"/>
<circle cx="362.00" cy="438.50" r="2.45" fill="#a6002b"/>
<circle cx="344.00" cy="439.50" r="2.45" fill="#a6002b"/>
<circle cx="348.00" cy="440.50" r="2.45" fill="#a6002b"/>
<circle cx="352.00" cy="440.00" r="2.45" fill="#a6002b"/>
<circle cx="356.00" cy="441.00" r="2.45" fill="#a6002b"/>
<circle cx="360.00" cy="440.50" r="2.45" fill="#a6002b"/>
<path d="M343.00,439.31 L345.69,443.96 L340.31,443.96Z" fill="#a6002b"/>
<circle cx="353.00" cy="443.00" r="2.45" fill="#a6002b"/>
<circle cx="356.50" cy="444.00" r="2.45" fill="#a6002b"/>
<circle cx="347.00" cy="446.00" r="2.45" fill="#a6002b"/>
<circle cx="350.00" cy="447.00" r="2.45" fill="#a6002b"/>
<circle cx="354.00" cy="446.00" r="2.45" fill="#a6002b"/>
<path d="M342.00,451.19 L344.69,446.54 L339.31,446.54Z" fill="#a6002b"/>
<circle cx="346.00" cy="449.00" r="2.45" fill="#a6002b"/>
<rect x="352.67" y="446.67" width="4.66" height="4.66" fill="#a6002b"/>
<rect x="357.67" y="447.17" width="4.66" height="4.66" fill="#a6002b"/>
<circle cx="358.00" cy="451.00" r="2.45" fill="#a6002b"/>
<circle cx="350.00" cy="451.00" r="2.45" fill="#a6002b"/>
<circle cx="354.00" cy="452.50" r="2.45" fill="#a6002b"/>
<circle cx="347.00" cy="454.00" r="2.45" fill="#a6002b"/>
<circle cx="351.00" cy="455.50" r="2.45" fill="#a6002b"/>
<circle cx="355.00" cy="456.00" r="2.45" fill="#a6002b"/>
<circle cx="349.00" cy="457.00" r="2.45" fill="#a6002b"/>
<line x1="371.50" y1="437.40" x2="398.00" y2="437.40" stroke="#222" stroke-width="1.4" />
<path d="M384.90,397.94 L387.54,393.38 L382.26,393.38Z" fill="#2b4c8a"/>
<rect x="378.32" y="415.32" width="4.56" height="4.56" fill="#2b4c8a"/>
<rect x="386.72" y="422.92" width="4.56" height="4.56" fill="#2b4c8a"/>
<path d="M375.60,427.66 L378.24,432.22 L372.96,432.22Z" fill="#2b4c8a"/>
<rect x="376.12" y="428.52" width="4.56" height="4.56" fill="#2b4c8a"/>
<circle cx="391.30" cy="430.80" r="2.40" fill="#2b4c8a"/>
<path d="M394.30,432.34 L396.94,427.78 L391.66,427.78Z" fill="#2b4c8a"/>
<circle cx="381.80" cy="434.20" r="2.40" fill="#2b4c8a"/>
<path d="M385.10,439.64 L387.74,435.08 L382.46,435.08Z" fill="#2b4c8a"/>
<path d="M387.90,438.44 L390.54,433.88 L385.26,433.88Z" fill="#2b4c8a"/>
<path d="M392.90,445.74 L395.54,441.18 L390.26,441.18Z" fill="#2b4c8a"/>
<circle cx="375.10" cy="448.10" r="2.40" fill="#2b4c8a"/>
<path d="M375.60,443.26 L378.24,447.82 L372.96,447.82Z" fill="#2b4c8a"/>
<rect x="382.82" y="444.22" width="4.56" height="4.56" fill="#2b4c8a"/>
<circle cx="380.10" cy="453.70" r="2.40" fill="#2b4c8a"/>
<path d="M384.60,453.36 L387.24,457.92 L381.96,457.92Z" fill="#2b4c8a"/>
<path d="M389.00,457.44 L391.64,452.88 L386.36,452.88Z" fill="#2b4c8a"/>
<rect x="391.22" y="450.32" width="4.56" height="4.56" fill="#2b4c8a"/>
<text x="418.80" y="419.70" font-size="9.2" text-anchor="start" fill="#1a1a1a" stroke="#1a1a1a" stroke-width="0.25" textLength="47.4" lengthAdjust="spacingAndGlyphs" >sgRNA pair</text>
<circle cx="430.00" cy="432.70" r="2.60" fill="#a6002b"/>
<text x="436.90" y="435.90" font-size="9" text-anchor="start" fill="#222" stroke="#222" stroke-width="0.25" >#1</text>
<rect x="427.39" y="444.19" width="5.22" height="5.22" fill="#a6002b"/>
<text x="436.90" y="450.00" font-size="9" text-anchor="start" fill="#222" stroke="#222" stroke-width="0.25" >#2</text>
<path d="M430.00,458.58 L433.02,463.80 L426.98,463.80Z" fill="#a6002b"/>
<text x="436.90" y="464.80" font-size="9" text-anchor="start" fill="#222" stroke="#222" stroke-width="0.25" >#3</text>
<path d="M430.00,478.02 L433.02,472.80 L426.98,472.80Z" fill="#a6002b"/>
<text x="436.90" y="478.20" font-size="9" text-anchor="start" fill="#222" stroke="#222" stroke-width="0.25" >#4</text>
<text x="354.60" y="513.80" font-size="9.6" text-anchor="end" fill="#1a1a1a" stroke="#1a1a1a" stroke-width="0.25" textLength="34.5" lengthAdjust="spacingAndGlyphs" transform="rotate(-26 354.60 513.80)" >KMT2a-r</text>
<text x="388.30" y="514.00" font-size="9.6" text-anchor="end" fill="#1a1a1a" stroke="#1a1a1a" stroke-width="0.25" textLength="52.5" lengthAdjust="spacingAndGlyphs" transform="rotate(-26 388.30 514.00)" >non-KMT2a-r</text>
<text x="9.00" y="562.20" font-size="14" text-anchor="start" fill="#000" font-weight="bold" >G</text>
<text x="96.80" y="571.70" font-size="11.5" text-anchor="middle" fill="#1a1a1a" stroke="#1a1a1a" stroke-width="0.25" textLength="28" lengthAdjust="spacingAndGlyphs" >EOL1</text>
<text x="172.50" y="572.00" font-size="11.5" text-anchor="middle" fill="#1a1a1a" stroke="#1a1a1a" stroke-width="0.25" textLength="25.4" lengthAdjust="spacingAndGlyphs" >NB-4</text>
<line x1="63.00" y1="578.60" x2="63.00" y2="687.60" stroke="#111" stroke-width="1.6" />
<line x1="59.00" y1="687.00" x2="63.00" y2="687.00" stroke="#111" stroke-width="1.2" />
<text x="55.60" y="690.38" font-size="9.4" text-anchor="end" fill="#1a1a1a" stroke="#1a1a1a" stroke-width="0.25" textLength="5.23" lengthAdjust="spacingAndGlyphs" >0</text>
<line x1="59.00" y1="642.30" x2="63.00" y2="642.30" stroke="#111" stroke-width="1.2" />
<text x="55.60" y="645.68" font-size="9.4" text-anchor="end" fill="#1a1a1a" stroke="#1a1a1a" stroke-width="0.25" textLength="10.45" lengthAdjust="spacingAndGlyphs" >50</text>
<line x1="59.00" y1="597.60" x2="63.00" y2="597.60" stroke="#111" stroke-width="1.2" />
<text x="55.60" y="600.98" font-size="9.4" text-anchor="end" fill="#1a1a1a" stroke="#1a1a1a" stroke-width="0.25" textLength="15.68" lengthAdjust="spacingAndGlyphs" >100</text>
<line x1="139.10" y1="578.60" x2="139.10" y2="687.60" stroke="#111" stroke-width="1.6" />
<line x1="135.10" y1="642.30" x2="139.10" y2="642.30" stroke="#111" stroke-width="1.2" />
<line x1="135.10" y1="597.60" x2="139.10" y2="597.60" stroke="#111" stroke-width="1.2" />
<text x="32.20" y="633.20" font-size="10.5" text-anchor="middle" fill="#1a1a1a" stroke="#1a1a1a" stroke-width="0.25" textLength="52.7" lengthAdjust="spacingAndGlyphs" transform="rotate(-90 32.20 633.20)" >Population (%)</text>
<rect x="65.40" y="637.30" width="8.80" height="49.70" fill="#a6002b" />
<rect x="65.40" y="620.30" width="8.80" height="17.00" fill="#c97567" />
<rect x="65.40" y="613.20" width="8.80" height="7.10" fill="#ebc2b4" />
<rect x="65.40" y="597.60" width="8.80" height="15.60" fill="#2b4c8a" />
<rect x="78.80" y="635.00" width="8.80" height="52.00" fill="#a6002b" />
<rect x="78.80" y="623.00" width="8.80" height="12.00" fill="#c97567" />
<rect x="78.80" y="614.80" width="8.80" height="8.20" fill="#ebc2b4" />
<rect x="78.80" y="598.20" width="8.80" height="16.60" fill="#2b4c8a" />
<rect x="92.50" y="644.10" width="8.80" height="42.90" fill="#a6002b" />
<rect x="92.50" y="637.90" width="8.80" height="6.20" fill="#c97567" />
<rect x="92.50" y="632.00" width="8.80" height="5.90" fill="#ebc2b4" />
<rect x="92.50" y="599.10" width="8.80" height="32.90" fill="#2b4c8a" />
<rect x="106.10" y="632.40" width="8.80" height="54.60" fill="#a6002b" />
<rect x="106.10" y="623.60" width="8.80" height="8.80" fill="#c97567" />
<rect x="106.10" y="612.80" width="8.80" height="10.80" fill="#ebc2b4" />
<rect x="106.10" y="597.60" width="8.80" height="15.20" fill="#2b4c8a" />
<rect x="119.30" y="636.90" width="8.80" height="50.10" fill="#a6002b" />
<rect x="119.30" y="630.80" width="8.80" height="6.10" fill="#c97567" />
<rect x="119.30" y="624.60" width="8.80" height="6.20" fill="#ebc2b4" />
<rect x="119.30" y="597.60" width="8.80" height="27.00" fill="#2b4c8a" />
<rect x="141.60" y="653.90" width="8.80" height="33.10" fill="#a6002b" />
<rect x="141.60" y="614.20" width="8.80" height="39.70" fill="#c97567" />
<rect x="141.60" y="607.40" width="8.80" height="6.80" fill="#ebc2b4" />
<rect x="141.60" y="597.20" width="8.80" height="10.20" fill="#2b4c8a" />
<rect x="154.90" y="655.50" width="8.80" height="31.50" fill="#a6002b" />
<rect x="154.90" y="611.90" width="8.80" height="43.60" fill="#c97567" />
<rect x="154.90" y="604.60" width="8.80" height="7.30" fill="#ebc2b4" />
<rect x="154.90" y="598.20" width="8.80" height="6.40" fill="#2b4c8a" />
<rect x="168.50" y="653.00" width="8.80" height="34.00" fill="#a6002b" />
<rect x="168.50" y="611.30" width="8.80" height="41.70" fill="#c97567" />
<rect x="168.50" y="606.00" width="8.80" height="5.30" fill="#ebc2b4" />
<rect x="168.50" y="598.70" width="8.80" height="7.30" fill="#2b4c8a" />
<rect x="182.00" y="653.50" width="8.80" height="33.50" fill="#a6002b" />
<rect x="182.00" y="615.80" width="8.80" height="37.70" fill="#c97567" />
<rect x="182.00" y="610.50" width="8.80" height="5.30" fill="#ebc2b4" />
<rect x="182.00" y="597.20" width="8.80" height="13.30" fill="#2b4c8a" />
<rect x="195.50" y="654.90" width="8.80" height="32.10" fill="#a6002b" />
<rect x="195.50" y="615.20" width="8.80" height="39.70" fill="#c97567" />
<rect x="195.50" y="608.50" width="8.80" height="6.70" fill="#ebc2b4" />
<rect x="195.50" y="598.20" width="8.80" height="10.30" fill="#2b4c8a" />
<line x1="62.30" y1="687.00" x2="131.20" y2="687.00" stroke="#111" stroke-width="1.6" />
<line x1="69.80" y1="687.00" x2="69.80" y2="690.50" stroke="#111" stroke-width="1.3" />
<line x1="83.20" y1="687.00" x2="83.20" y2="690.50" stroke="#111" stroke-width="1.3" />
<line x1="96.90" y1="687.00" x2="96.90" y2="690.50" stroke="#111" stroke-width="1.3" />
<line x1="110.50" y1="687.00" x2="110.50" y2="690.50" stroke="#111" stroke-width="1.3" />
<line x1="123.70" y1="687.00" x2="123.70" y2="690.50" stroke="#111" stroke-width="1.3" />
<line x1="134.90" y1="687.00" x2="206.30" y2="687.00" stroke="#111" stroke-width="1.6" />
<line x1="146.00" y1="687.00" x2="146.00" y2="690.50" stroke="#111" stroke-width="1.3" />
<line x1="159.30" y1="687.00" x2="159.30" y2="690.50" stroke="#111" stroke-width="1.3" />
<line x1="172.90" y1="687.00" x2="172.90" y2="690.50" stroke="#111" stroke-width="1.3" />
<line x1="186.40" y1="687.00" x2="186.40" y2="690.50" stroke="#111" stroke-width="1.3" />
<line x1="199.90" y1="687.00" x2="199.90" y2="690.50" stroke="#111" stroke-width="1.3" />
<rect x="68.70" y="597.50" width="2.20" height="1.20" fill="#111" />
<rect x="68.70" y="612.80" width="2.20" height="1.20" fill="#111" />
<rect x="68.70" y="619.90" width="2.20" height="1.20" fill="#111" />
<rect x="68.70" y="636.90" width="2.20" height="1.20" fill="#111" />
<rect x="82.10" y="598.10" width="2.20" height="1.20" fill="#111" />
<rect x="82.10" y="614.40" width="2.20" height="1.20" fill="#111" />
<rect x="82.10" y="622.60" width="2.20" height="1.20" fill="#111" />
<rect x="82.10" y="634.60" width="2.20" height="1.20" fill="#111" />
<rect x="95.80" y="599.00" width="2.20" height="1.20" fill="#111" />
<rect x="95.80" y="631.60" width="2.20" height="1.20" fill="#111" />
<rect x="95.80" y="637.50" width="2.20" height="1.20" fill="#111" />
<rect x="95.80" y="643.70" width="2.20" height="1.20" fill="#111" />
<rect x="109.40" y="597.50" width="2.20" height="1.20" fill="#111" />
<rect x="109.40" y="612.40" width="2.20" height="1.20" fill="#111" />
<rect x="109.40" y="623.20" width="2.20" height="1.20" fill="#111" />
<rect x="109.40" y="632.00" width="2.20" height="1.20" fill="#111" />
<rect x="122.60" y="597.50" width="2.20" height="1.20" fill="#111" />
<rect x="122.60" y="624.20" width="2.20" height="1.20" fill="#111" />
<rect x="122.60" y="630.40" width="2.20" height="1.20" fill="#111" />
<rect x="122.60" y="636.50" width="2.20" height="1.20" fill="#111" />
<rect x="144.90" y="597.10" width="2.20" height="1.20" fill="#111" />
<rect x="144.90" y="607.00" width="2.20" height="1.20" fill="#111" />
<rect x="144.90" y="613.80" width="2.20" height="1.20" fill="#111" />
<rect x="144.90" y="653.50" width="2.20" height="1.20" fill="#111" />
<rect x="158.20" y="598.10" width="2.20" height="1.20" fill="#111" />
<rect x="158.20" y="604.20" width="2.20" height="1.20" fill="#111" />
<rect x="158.20" y="611.50" width="2.20" height="1.20" fill="#111" />
<rect x="158.20" y="655.10" width="2.20" height="1.20" fill="#111" />
<rect x="171.80" y="598.60" width="2.20" height="1.20" fill="#111" />
<rect x="171.80" y="605.60" width="2.20" height="1.20" fill="#111" />
<rect x="171.80" y="610.90" width="2.20" height="1.20" fill="#111" />
<rect x="171.80" y="652.60" width="2.20" height="1.20" fill="#111" />
<rect x="185.30" y="597.10" width="2.20" height="1.20" fill="#111" />
<rect x="185.30" y="610.10" width="2.20" height="1.20" fill="#111" />
<rect x="185.30" y="615.40" width="2.20" height="1.20" fill="#111" />
<rect x="185.30" y="653.10" width="2.20" height="1.20" fill="#111" />
<rect x="198.80" y="598.10" width="2.20" height="1.20" fill="#111" />
<rect x="198.80" y="608.10" width="2.20" height="1.20" fill="#111" />
<rect x="198.80" y="614.80" width="2.20" height="1.20" fill="#111" />
<rect x="198.80" y="654.50" width="2.20" height="1.20" fill="#111" />
<line x1="123.70" y1="599.00" x2="123.70" y2="609.00" stroke="#111" stroke-width="0.9" />
<line x1="123.70" y1="634.00" x2="123.70" y2="649.00" stroke="#111" stroke-width="0.9" />
<line x1="83.20" y1="616.00" x2="83.20" y2="620.00" stroke="#111" stroke-width="0.9" />
<line x1="83.20" y1="625.00" x2="83.20" y2="632.00" stroke="#111" stroke-width="0.9" />
<line x1="69.80" y1="622.00" x2="69.80" y2="628.00" stroke="#111" stroke-width="0.9" />
<line x1="146.00" y1="600.00" x2="146.00" y2="606.00" stroke="#111" stroke-width="0.9" />
<line x1="146.00" y1="658.00" x2="146.00" y2="666.00" stroke="#111" stroke-width="0.9" />
<line x1="159.30" y1="601.00" x2="159.30" y2="610.00" stroke="#111" stroke-width="0.9" />
<line x1="159.30" y1="616.00" x2="159.30" y2="624.00" stroke="#111" stroke-width="0.9" />
<line x1="172.90" y1="612.00" x2="172.90" y2="624.00" stroke="#111" stroke-width="0.9" />
<line x1="172.90" y1="648.00" x2="172.90" y2="660.00" stroke="#111" stroke-width="0.9" />
<line x1="186.40" y1="601.00" x2="186.40" y2="610.00" stroke="#111" stroke-width="0.9" />
<line x1="186.40" y1="611.00" x2="186.40" y2="617.00" stroke="#111" stroke-width="0.9" />
<line x1="186.40" y1="651.00" x2="186.40" y2="658.00" stroke="#111" stroke-width="0.9" />
<line x1="199.90" y1="600.00" x2="199.90" y2="606.00" stroke="#111" stroke-width="0.9" />
<line x1="199.90" y1="649.00" x2="199.90" y2="661.00" stroke="#111" stroke-width="0.9" />
<line x1="69.80" y1="636.00" x2="69.80" y2="642.00" stroke="#111" stroke-width="0.9" />
<line x1="83.20" y1="634.00" x2="83.20" y2="640.00" stroke="#111" stroke-width="0.9" />
<text x="96.90" y="614.87" font-size="8.4" text-anchor="middle" fill="#000" stroke="#000" stroke-width="0.25" letter-spacing="0.3">**</text>
<text x="83.20" y="593.90" font-size="9" text-anchor="middle" fill="#222" stroke="#222" stroke-width="0.25" >ns</text>
<text x="110.50" y="593.90" font-size="9" text-anchor="middle" fill="#222" stroke="#222" stroke-width="0.25" >ns</text>
<text x="123.70" y="593.90" font-size="9" text-anchor="middle" fill="#222" stroke="#222" stroke-width="0.25" >ns</text>
<text x="159.30" y="595.90" font-size="9" text-anchor="middle" fill="#222" stroke="#222" stroke-width="0.25" >ns</text>
<text x="172.90" y="595.90" font-size="9" text-anchor="middle" fill="#222" stroke="#222" stroke-width="0.25" >ns</text>
<text x="186.40" y="595.90" font-size="9" text-anchor="middle" fill="#222" stroke="#222" stroke-width="0.25" >ns</text>
<text x="199.90" y="595.90" font-size="9" text-anchor="middle" fill="#222" stroke="#222" stroke-width="0.25" >ns</text>
<rect x="214.10" y="594.90" width="14.80" height="3.80" fill="#2b4c8a" />
<text x="232.90" y="599.80" font-size="9.5" text-anchor="start" fill="#1a1a1a" stroke="#1a1a1a" stroke-width="0.25" textLength="19.4" lengthAdjust="spacingAndGlyphs" >dead</text>
<rect x="214.10" y="608.40" width="14.80" height="3.80" fill="#ebc2b4" />
<text x="232.90" y="613.30" font-size="9.5" text-anchor="start" fill="#1a1a1a" stroke="#1a1a1a" stroke-width="0.25" >G2/M</text>
<rect x="214.10" y="621.90" width="14.80" height="3.80" fill="#c97567" />
<text x="232.90" y="626.80" font-size="9.5" text-anchor="start" fill="#1a1a1a" stroke="#1a1a1a" stroke-width="0.25" >S</text>
<rect x="214.10" y="635.40" width="14.80" height="3.80" fill="#a6002b" />
<text x="232.90" y="640.30" font-size="9.5" text-anchor="start" fill="#1a1a1a" stroke="#1a1a1a" stroke-width="0.25" >G1</text>
<text x="73.20" y="698.30" font-size="9" text-anchor="end" fill="#1a1a1a" stroke="#1a1a1a" stroke-width="0.25" transform="rotate(-45 73.20 698.30)" >ctrl</text>
<text x="86.60" y="698.30" font-size="9" text-anchor="end" fill="#1a1a1a" stroke="#1a1a1a" stroke-width="0.25" transform="rotate(-45 86.60 698.30)" >#1</text>
<text x="100.30" y="698.30" font-size="9" text-anchor="end" fill="#1a1a1a" stroke="#1a1a1a" stroke-width="0.25" transform="rotate(-45 100.30 698.30)" >#2</text>
<text x="113.90" y="698.30" font-size="9" text-anchor="end" fill="#1a1a1a" stroke="#1a1a1a" stroke-width="0.25" transform="rotate(-45 113.90 698.30)" >#3</text>
<text x="127.10" y="698.30" font-size="9" text-anchor="end" fill="#1a1a1a" stroke="#1a1a1a" stroke-width="0.25" transform="rotate(-45 127.10 698.30)" >#4</text>
<text x="149.40" y="698.30" font-size="9" text-anchor="end" fill="#1a1a1a" stroke="#1a1a1a" stroke-width="0.25" transform="rotate(-45 149.40 698.30)" >ctrl</text>
<text x="162.70" y="698.30" font-size="9" text-anchor="end" fill="#1a1a1a" stroke="#1a1a1a" stroke-width="0.25" transform="rotate(-45 162.70 698.30)" >#1</text>
<text x="176.30" y="698.30" font-size="9" text-anchor="end" fill="#1a1a1a" stroke="#1a1a1a" stroke-width="0.25" transform="rotate(-45 176.30 698.30)" >#2</text>
<text x="189.80" y="698.30" font-size="9" text-anchor="end" fill="#1a1a1a" stroke="#1a1a1a" stroke-width="0.25" transform="rotate(-45 189.80 698.30)" >#3</text>
<text x="203.30" y="698.30" font-size="9" text-anchor="end" fill="#1a1a1a" stroke="#1a1a1a" stroke-width="0.25" transform="rotate(-45 203.30 698.30)" >#4</text>
<text x="208.80" y="702.00" font-size="9.2" text-anchor="start" fill="#1a1a1a" stroke="#1a1a1a" stroke-width="0.25" textLength="48.2" lengthAdjust="spacingAndGlyphs" >sgRNA pair</text>
<text x="278.50" y="561.90" font-size="14" text-anchor="start" fill="#000" font-weight="bold" >H</text>
<text x="363.10" y="572.10" font-size="11.5" text-anchor="middle" fill="#1a1a1a" stroke="#1a1a1a" stroke-width="0.25" textLength="28" lengthAdjust="spacingAndGlyphs" >EOL1</text>
<text x="432.10" y="572.70" font-size="11.5" text-anchor="middle" fill="#1a1a1a" stroke="#1a1a1a" stroke-width="0.25" textLength="25.4" lengthAdjust="spacingAndGlyphs" >NB-4</text>
<line x1="331.00" y1="576.60" x2="331.00" y2="687.40" stroke="#111" stroke-width="1.6" />
<line x1="327.00" y1="686.80" x2="331.00" y2="686.80" stroke="#111" stroke-width="1.2" />
<text x="324.00" y="690.40" font-size="10" text-anchor="end" fill="#1a1a1a" stroke="#1a1a1a" stroke-width="0.25" textLength="6.00" lengthAdjust="spacingAndGlyphs" >0</text>
<line x1="327.00" y1="659.80" x2="331.00" y2="659.80" stroke="#111" stroke-width="1.2" />
<text x="324.00" y="663.40" font-size="10" text-anchor="end" fill="#1a1a1a" stroke="#1a1a1a" stroke-width="0.25" textLength="12.01" lengthAdjust="spacingAndGlyphs" >10</text>
<line x1="327.00" y1="632.80" x2="331.00" y2="632.80" stroke="#111" stroke-width="1.2" />
<text x="324.00" y="636.40" font-size="10" text-anchor="end" fill="#1a1a1a" stroke="#1a1a1a" stroke-width="0.25" textLength="12.01" lengthAdjust="spacingAndGlyphs" >20</text>
<line x1="327.00" y1="605.80" x2="331.00" y2="605.80" stroke="#111" stroke-width="1.2" />
<text x="324.00" y="609.40" font-size="10" text-anchor="end" fill="#1a1a1a" stroke="#1a1a1a" stroke-width="0.25" textLength="12.01" lengthAdjust="spacingAndGlyphs" >30</text>
<line x1="327.00" y1="578.80" x2="331.00" y2="578.80" stroke="#111" stroke-width="1.2" />
<text x="324.00" y="582.40" font-size="10" text-anchor="end" fill="#1a1a1a" stroke="#1a1a1a" stroke-width="0.25" textLength="12.01" lengthAdjust="spacingAndGlyphs" >40</text>
<text x="306.50" y="631.70" font-size="10.5" text-anchor="middle" fill="#1a1a1a" stroke="#1a1a1a" stroke-width="0.25" textLength="74.1" lengthAdjust="spacingAndGlyphs" transform="rotate(-90 306.50 631.70)" >Annexin v+ cells (%)</text>
<line x1="341.50" y1="662.70" x2="341.50" y2="665.70" stroke="#222" stroke-width="1.3" />
<line x1="338.90" y1="662.70" x2="344.50" y2="662.70" stroke="#222" stroke-width="1.3" />
<rect x="336.50" y="665.70" width="10.40" height="21.10" fill="#2b4c8a" />
<line x1="353.50" y1="616.80" x2="353.50" y2="621.30" stroke="#222" stroke-width="1.3" />
<line x1="350.30" y1="616.80" x2="355.90" y2="616.80" stroke="#222" stroke-width="1.3" />
<rect x="348.20" y="621.30" width="9.80" height="65.50" fill="#ebc2b4" />
<line x1="364.50" y1="637.70" x2="364.50" y2="640.80" stroke="#222" stroke-width="1.3" />
<line x1="361.90" y1="637.70" x2="367.50" y2="637.70" stroke="#222" stroke-width="1.3" />
<rect x="359.60" y="640.80" width="10.20" height="46.00" fill="#d38a7c" />
<line x1="373.20" y1="648.20" x2="378.80" y2="648.20" stroke="#222" stroke-width="1.3" />
<rect x="370.90" y="648.60" width="10.20" height="38.20" fill="#bf5a50" />
<line x1="387.50" y1="649.40" x2="387.50" y2="651.00" stroke="#222" stroke-width="1.3" />
<line x1="384.70" y1="649.40" x2="390.30" y2="649.40" stroke="#222" stroke-width="1.3" />
<rect x="382.50" y="651.00" width="10.00" height="35.80" fill="#a6002b" />
<line x1="409.50" y1="619.70" x2="409.50" y2="626.90" stroke="#222" stroke-width="1.3" />
<line x1="406.30" y1="619.70" x2="411.90" y2="619.70" stroke="#222" stroke-width="1.3" />
<rect x="404.10" y="626.90" width="10.00" height="59.90" fill="#2b4c8a" />
<line x1="420.50" y1="616.40" x2="420.50" y2="622.60" stroke="#222" stroke-width="1.3" />
<line x1="417.70" y1="616.40" x2="423.30" y2="616.40" stroke="#222" stroke-width="1.3" />
<rect x="415.40" y="622.60" width="10.20" height="64.20" fill="#ebc2b4" />
<line x1="432.50" y1="615.80" x2="432.50" y2="619.10" stroke="#222" stroke-width="1.3" />
<line x1="429.30" y1="615.80" x2="434.90" y2="615.80" stroke="#222" stroke-width="1.3" />
<rect x="426.80" y="619.10" width="10.60" height="67.70" fill="#d38a7c" />
<line x1="443.50" y1="621.60" x2="443.50" y2="623.00" stroke="#222" stroke-width="1.3" />
<line x1="440.80" y1="621.60" x2="446.40" y2="621.60" stroke="#222" stroke-width="1.3" />
<rect x="438.50" y="623.00" width="10.20" height="63.80" fill="#bf5a50" />
<line x1="455.50" y1="624.20" x2="455.50" y2="628.10" stroke="#222" stroke-width="1.3" />
<line x1="452.30" y1="624.20" x2="457.90" y2="624.20" stroke="#222" stroke-width="1.3" />
<rect x="450.10" y="628.10" width="10.00" height="58.70" fill="#a6002b" />
<line x1="330.30" y1="686.80" x2="465.90" y2="686.80" stroke="#111" stroke-width="1.6" />
<line x1="341.70" y1="686.80" x2="341.70" y2="690.30" stroke="#111" stroke-width="1.3" />
<line x1="353.10" y1="686.80" x2="353.10" y2="690.30" stroke="#111" stroke-width="1.3" />
<line x1="364.70" y1="686.80" x2="364.70" y2="690.30" stroke="#111" stroke-width="1.3" />
<line x1="376.00" y1="686.80" x2="376.00" y2="690.30" stroke="#111" stroke-width="1.3" />
<line x1="387.50" y1="686.80" x2="387.50" y2="690.30" stroke="#111" stroke-width="1.3" />
<line x1="409.10" y1="686.80" x2="409.10" y2="690.30" stroke="#111" stroke-width="1.3" />
<line x1="420.50" y1="686.80" x2="420.50" y2="690.30" stroke="#111" stroke-width="1.3" />
<line x1="432.10" y1="686.80" x2="432.10" y2="690.30" stroke="#111" stroke-width="1.3" />
<line x1="443.60" y1="686.80" x2="443.60" y2="690.30" stroke="#111" stroke-width="1.3" />
<line x1="455.10" y1="686.80" x2="455.10" y2="690.30" stroke="#111" stroke-width="1.3" />
<text x="353.10" y="616.27" font-size="8.4" text-anchor="middle" fill="#000" stroke="#000" stroke-width="0.25" letter-spacing="0.3">**</text>
<text x="364.70" y="637.17" font-size="8.4" text-anchor="middle" fill="#000" stroke="#000" stroke-width="0.25" letter-spacing="0.3">**</text>
<text x="376.00" y="647.57" font-size="8.4" text-anchor="middle" fill="#000" stroke="#000" stroke-width="0.25" letter-spacing="0.3">**</text>
<text x="387.50" y="649.07" font-size="8.4" text-anchor="middle" fill="#000" stroke="#000" stroke-width="0.25" >*</text>
<text x="420.50" y="613.70" font-size="9" text-anchor="middle" fill="#222" stroke="#222" stroke-width="0.25" >ns</text>
<text x="432.10" y="613.30" font-size="9" text-anchor="middle" fill="#222" stroke="#222" stroke-width="0.25" >ns</text>
<text x="443.60" y="618.20" font-size="9" text-anchor="middle" fill="#222" stroke="#222" stroke-width="0.25" >ns</text>
<text x="455.10" y="621.50" font-size="9" text-anchor="middle" fill="#222" stroke="#222" stroke-width="0.25" >ns</text>
<text x="345.10" y="698.30" font-size="9" text-anchor="end" fill="#1a1a1a" stroke="#1a1a1a" stroke-width="0.25" transform="rotate(-45 345.10 698.30)" >ctrl</text>
<text x="356.50" y="698.30" font-size="9" text-anchor="end" fill="#1a1a1a" stroke="#1a1a1a" stroke-width="0.25" transform="rotate(-45 356.50 698.30)" >#1</text>
<text x="368.10" y="698.30" font-size="9" text-anchor="end" fill="#1a1a1a" stroke="#1a1a1a" stroke-width="0.25" transform="rotate(-45 368.10 698.30)" >#2</text>
<text x="379.40" y="698.30" font-size="9" text-anchor="end" fill="#1a1a1a" stroke="#1a1a1a" stroke-width="0.25" transform="rotate(-45 379.40 698.30)" >#3</text>
<text x="390.90" y="698.30" font-size="9" text-anchor="end" fill="#1a1a1a" stroke="#1a1a1a" stroke-width="0.25" transform="rotate(-45 390.90 698.30)" >#4</text>
<text x="412.50" y="698.30" font-size="9" text-anchor="end" fill="#1a1a1a" stroke="#1a1a1a" stroke-width="0.25" transform="rotate(-45 412.50 698.30)" >ctrl</text>
<text x="423.90" y="698.30" font-size="9" text-anchor="end" fill="#1a1a1a" stroke="#1a1a1a" stroke-width="0.25" transform="rotate(-45 423.90 698.30)" >#1</text>
<text x="435.50" y="698.30" font-size="9" text-anchor="end" fill="#1a1a1a" stroke="#1a1a1a" stroke-width="0.25" transform="rotate(-45 435.50 698.30)" >#2</text>
<text x="447.00" y="698.30" font-size="9" text-anchor="end" fill="#1a1a1a" stroke="#1a1a1a" stroke-width="0.25" transform="rotate(-45 447.00 698.30)" >#3</text>
<text x="458.50" y="698.30" font-size="9" text-anchor="end" fill="#1a1a1a" stroke="#1a1a1a" stroke-width="0.25" transform="rotate(-45 458.50 698.30)" >#4</text>
<text x="463.70" y="701.80" font-size="9.2" text-anchor="start" fill="#1a1a1a" stroke="#1a1a1a" stroke-width="0.25" textLength="47.7" lengthAdjust="spacingAndGlyphs" >sgRNA pair</text>
<rect x="0.6" y="0.6" width="518.8" height="714.8" fill="none" stroke="#000" stroke-width="1.3"/>
</svg>
</body></html>
